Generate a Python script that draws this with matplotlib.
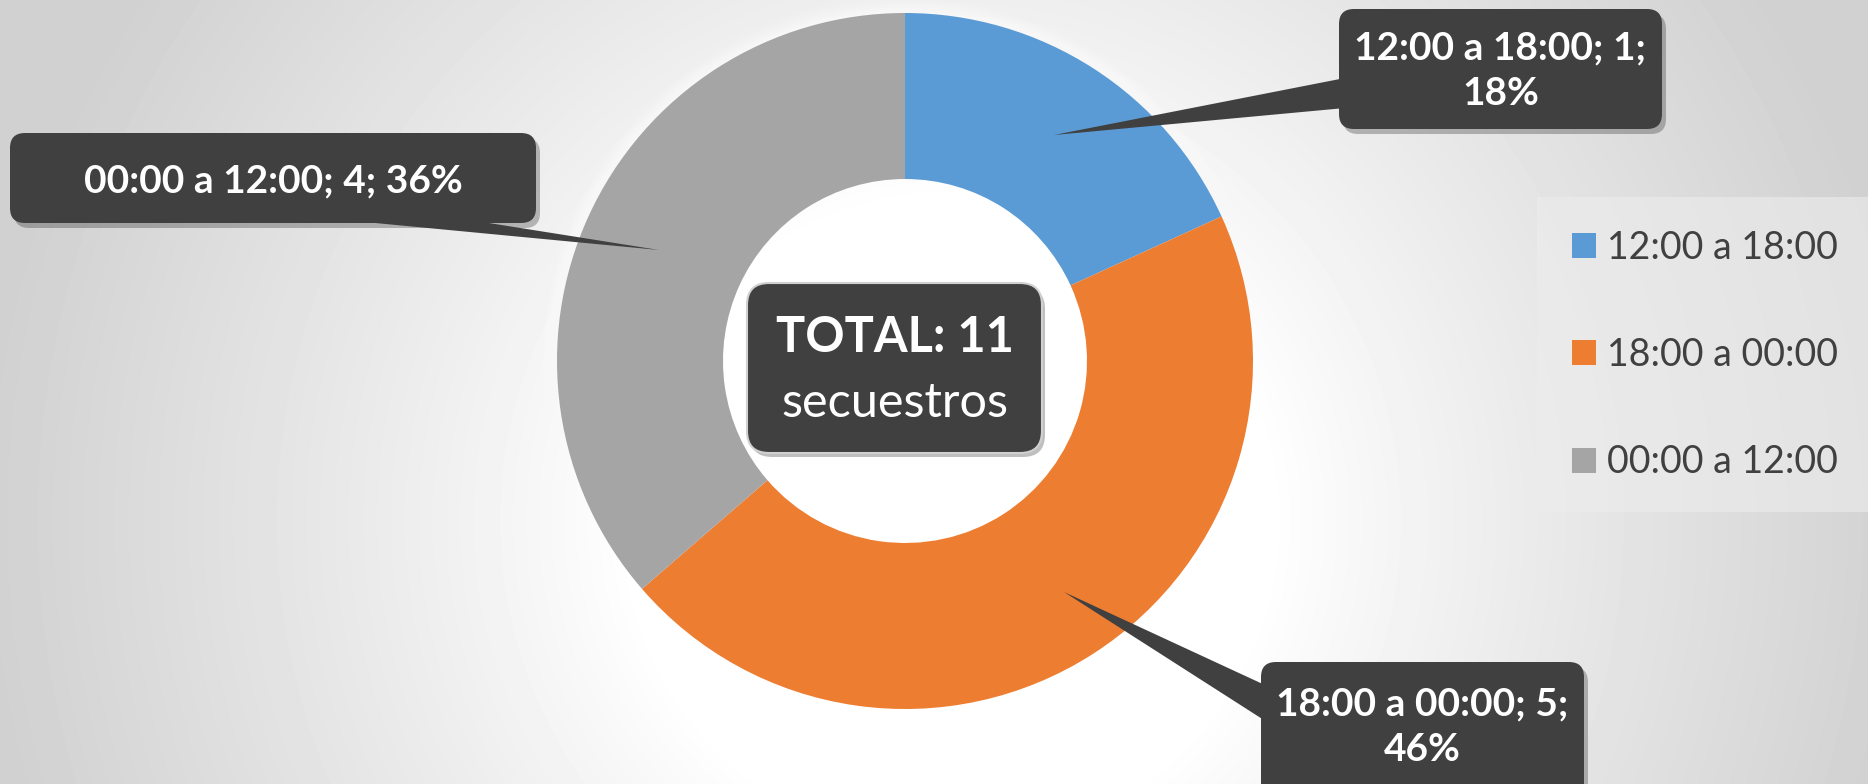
import numpy as np
import matplotlib.pyplot as plt
from matplotlib.patches import FancyBboxPatch, Polygon, Rectangle, Circle

# ---------------------------------------------------
# data (the wedge sizes follow the drawn angles: 18% / 46% / 36% of 11)
# ---------------------------------------------------
franjas = ["12:00 a 18:00", "18:00 a 00:00", "00:00 a 12:00"]
secuestros = [2, 5, 4]
etiqueta_n = [1, 5, 4]          # counts as printed in the original labels
porcentajes = ["18%", "46%", "36%"]
colores = ["#5B9BD5", "#ED7D31", "#A5A5A5"]
total = sum(secuestros)

W, H = 1868, 784
FONT = "Lato"

fig = plt.figure(figsize=(W / 100, H / 100), dpi=100)
ax = fig.add_axes([0, 0, 1, 1])

# background: soft radial gradient (white in the middle, grey at the borders)
yy, xx = np.mgrid[0:H, 0:W]
d = np.hypot(xx - 950, yy - 520)
grad = 1.0 - 0.18 * np.clip((d - 320) / 640, 0, 1) ** 0.9
ax.imshow(grad, extent=(0, W, 0, H), origin="upper", cmap="gray", vmin=0, vmax=1, zorder=0)

# donut
cx, cy, r_out, ancho = 905, H - 361, 348, 166

# soft white glow around the ring
for k in range(1, 8):
    ax.add_patch(Circle((cx, cy), r_out + 2 * k, facecolor="white", edgecolor="none",
                        alpha=0.12, zorder=1))

wedges, _ = ax.pie(secuestros, colors=colores, startangle=90, counterclock=False,
                   radius=r_out, center=(cx, cy),
                   wedgeprops=dict(width=ancho, edgecolor="none", linewidth=0))
for w in wedges:
    w.set_zorder(2)


def callout(x0, y0, x1, y1, tip, base, texto, ty=None, fs=28):
    # coordinates given in pixels from top-left
    w, h = x1 - x0, y1 - y0
    sh = FancyBboxPatch((x0 + 4, H - y1 - 5), w, h, boxstyle="round,pad=0,rounding_size=15",
                        facecolor="black", edgecolor="none", alpha=0.25, zorder=4)
    ax.add_patch(sh)
    pts = [(tip[0], H - tip[1])] + [(bx, H - by) for bx, by in base]
    ax.add_patch(Polygon(pts, closed=True, facecolor="#404040", edgecolor="none", zorder=5))
    ax.add_patch(FancyBboxPatch((x0, H - y1), w, h, boxstyle="round,pad=0,rounding_size=15",
                                facecolor="#404040", edgecolor="none", zorder=5))
    if ty is None:
        ty = (y0 + y1) / 2
    ax.text((x0 + x1) / 2, H - ty, texto, color="white", fontsize=fs,
            fontweight="bold", family=FONT, ha="center", va="center",
            linespacing=1.35, zorder=6)


etiquetas = [f"{f}; {n}; {p}" for f, n, p in zip(franjas, etiqueta_n, porcentajes)]

callout(1339, 9, 1662, 129, (1054, 135), [(1345, 78), (1345, 108)],
        etiquetas[0].replace("1; ", "1;\n"), ty=71)
callout(1261, 662, 1584, 800, (1064, 592), [(1267, 686), (1267, 722)],
        etiquetas[1].replace("5; ", "5;\n"), ty=727)
callout(10, 133, 536, 223, (659, 250), [(312, 217), (451, 217)], etiquetas[2], ty=181)

# centre box
bx0, by0, bx1, by1 = 747, 283, 1042, 453
ax.add_patch(FancyBboxPatch((bx0 + 3, H - by1 - 4), bx1 - bx0, by1 - by0,
                            boxstyle="round,pad=0,rounding_size=22", facecolor="black",
                            edgecolor="none", alpha=0.25, zorder=4))
ax.add_patch(FancyBboxPatch((bx0, H - by1), bx1 - bx0, by1 - by0,
                            boxstyle="round,pad=0,rounding_size=22", facecolor="#404040",
                            edgecolor="#d0d0d0", linewidth=1.5, zorder=5))
ax.text((bx0 + bx1) / 2, H - 337, f"TOTAL: {total}", color="white", fontsize=35,
        fontweight="bold", family=FONT, ha="center", va="center", zorder=6)
ax.text((bx0 + bx1) / 2, H - 403, "secuestros", color="white", fontsize=35,
        family=FONT, ha="center", va="center", zorder=6)

# legend panel
ax.add_patch(Rectangle((1537, H - 512), W - 1537, 512 - 197, facecolor="#ededed",
                       edgecolor="none", alpha=0.6, zorder=1))
leg = ax.legend(wedges, franjas, loc="center left", bbox_to_anchor=(1538 / W, 1 - 355 / H),
                frameon=False, prop={"family": FONT, "size": 27}, labelcolor="#404040",
                handlelength=0.65, handleheight=0.65, handletextpad=0.3, labelspacing=1.9)
for hnd in leg.legend_handles:
    hnd.set_edgecolor("none")

ax.set_xlim(0, W)
ax.set_ylim(0, H)
ax.set_aspect("auto")
ax.axis("off")

plt.savefig("out.png", dpi=100)
plt.close()
